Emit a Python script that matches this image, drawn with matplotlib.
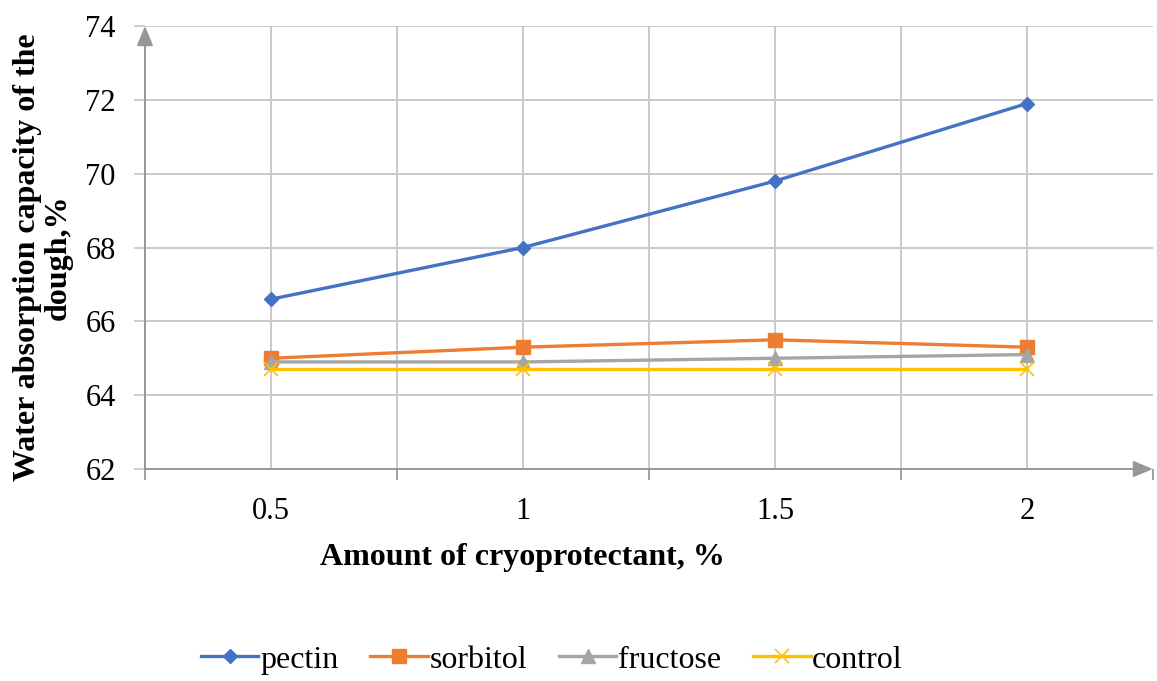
import matplotlib.pyplot as plt

# data
amounts = ["0.5", "1", "1.5", "2"]
pectin = [66.6, 68.0, 69.8, 71.9]
sorbitol = [65.0, 65.3, 65.5, 65.3]
fructose = [64.9, 64.9, 65.0, 65.1]
control = [64.7, 64.7, 64.7, 64.7]
y_ticks = [62, 64, 66, 68, 70, 72, 74]

plt.rcParams["font.family"] = ["Liberation Serif", "DejaVu Serif"]

fig = plt.figure(figsize=(11.57, 6.81), dpi=100)
ax = fig.add_axes([0.1253, 0.3113, 0.8712, 0.6505])

x = [i + 0.5 for i in range(len(amounts))]
grid_c = "#c9c9c9"
axis_c = "#979797"

# gridlines at category centres and boundaries
for gx in [i * 0.5 for i in range(1, 8)]:
    ax.axvline(gx, color=grid_c, lw=1.4, zorder=0)
for gy in y_ticks[1:]:
    ax.axhline(gy, color=grid_c, lw=1.4, zorder=0)

ax.plot(x, pectin, color="#4472C4", lw=2.4, marker="D", ms=7.5, label="pectin")
ax.plot(x, sorbitol, color="#ED7D31", lw=2.4, marker="s", ms=10, label="sorbitol")
ax.plot(x, fructose, color="#A5A5A5", lw=2.4, marker="^", ms=10, label="fructose")
ax.plot(x, control, color="#FFC000", lw=2.4, marker="x", ms=10, mew=1.2, label="control")

ax.set_xlim(0, 4)
ax.set_ylim(62, 74)
ax.set_yticks(y_ticks)
ax.set_xticks(x)
ax.set_xticklabels(amounts)
ax.set_xticks(range(0, 5), minor=True)
ax.tick_params(axis="x", which="major", length=0, labelsize=22, pad=20)
ax.tick_params(axis="x", which="minor", length=8, width=1.3, color=axis_c)
ax.tick_params(axis="y", length=8, width=1.3, color=grid_c, labelsize=22, pad=13)

for s in ax.spines.values():
    s.set_visible(False)

# axis lines with arrow heads
arrow = dict(arrowstyle="-|>,head_length=1.2,head_width=0.5",
             color=axis_c, lw=1.4, shrinkA=0, shrinkB=0)
ax.annotate("", xy=(0, 1), xytext=(0, 0), xycoords="axes fraction", arrowprops=arrow)
ax.annotate("", xy=(1, 0), xytext=(0, 0), xycoords="axes fraction", arrowprops=arrow)

ax.set_xlabel("Amount of cryoprotectant, %", fontsize=23, fontweight="bold")
ax.xaxis.set_label_coords(0.374, -0.168)
ax.set_ylabel("Water absorption capacity of the\ndough,%", fontsize=23,
              fontweight="bold", linespacing=1.05)
ax.yaxis.set_label_coords(-0.072, 0.478)

fig.legend(loc="lower center", bbox_to_anchor=(0.477, 0.0), ncol=4, frameon=False,
           fontsize=23, handlelength=1.8, handletextpad=0.05, columnspacing=1.0,
           borderpad=0.1, borderaxespad=0.1)

fig.savefig("out.png", dpi=100)
